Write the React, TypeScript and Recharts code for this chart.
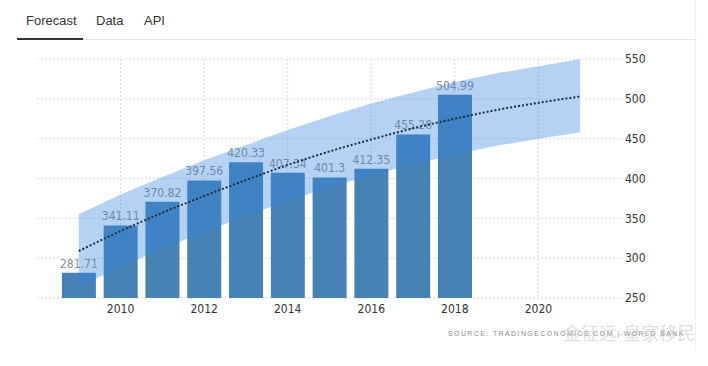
import React from "react";
import { ComposedChart, Bar, Area, Line, XAxis, YAxis, CartesianGrid, LabelList } from "recharts";

const years = [2009, 2010, 2011, 2012, 2013, 2014, 2015, 2016, 2017, 2018, 2019, 2020, 2021];
const barValues = [281.71, 341.11, 370.82, 397.56, 420.33, 407.34, 401.3, 412.35, 455.28, 504.99];
const trendValues = [309, 334, 357, 378, 398, 417, 434, 449, 463, 475, 486, 495, 503];
const upperValues = [355, 380, 402, 423, 442, 461, 478, 494, 508, 521, 532, 541, 550];
const lowerValues = [264, 289, 312, 333, 353, 372, 389, 404, 418, 430, 441, 450, 458];
const xTicks = [2010, 2012, 2014, 2016, 2018, 2020];
const yTicks = [250, 300, 350, 400, 450, 500, 550];
const tabs = ["Forecast", "Data", "API"];
const sourceText = "SOURCE: TRADINGECONOMICS.COM | WORLD BANK";
const watermark = "金征远-皇家移民";

const data = years.map((y, i) => ({
  year: y,
  value: i < barValues.length ? barValues[i] : null,
  trend: trendValues[i],
  band: [lowerValues[i], upperValues[i]],
}));

const narrow = "'Liberation Sans Narrow', 'DejaVu Sans Condensed', 'Liberation Sans', Arial, sans-serif";
const W = 708;
const H = 366;
const margin = { top: 59, right: 26, bottom: 38, left: 37 };

export default function App() {
  const tickStyle = { fill: "#333", fontSize: 12, fontFamily: narrow };
  return (
    <div style={{ position: "absolute", left: 0, top: 0, width: W, height: H, background: "#fff", overflow: "hidden", fontFamily: "'Liberation Sans', Arial, sans-serif" }}>
      <div style={{ position: "absolute", left: 695, top: 0, width: 1, height: 350, background: "#f0f0f0" }} />
      <div style={{ position: "absolute", left: 17, top: 39, width: 680, height: 1, background: "#e6e6e6" }} />
      <div style={{ position: "absolute", left: 17, top: 38, width: 66, height: 2, background: "#333" }} />
      {tabs.map((t, i) => (
        <div key={t} style={{ position: "absolute", left: [26, 96, 144][i], top: 12, fontSize: 13, color: "#333", lineHeight: "18px" }}>{t}</div>
      ))}
      <div style={{ position: "absolute", left: 0, top: 0 }}>
        <ComposedChart width={W} height={H} data={data} margin={margin}>
          <CartesianGrid stroke="#d9d9d9" strokeDasharray="2 2" horizontalValues={yTicks} verticalValues={xTicks} />
          <XAxis dataKey="year" type="number" domain={[2008, 2022]} ticks={xTicks} axisLine={false} tickLine={false} tickSize={0} tickMargin={6} tick={tickStyle} />
          <YAxis orientation="right" domain={[250, 550]} ticks={yTicks} allowDataOverflow axisLine={false} tickLine={false} tickSize={0} tickMargin={3} width={60}
            tick={{ ...tickStyle, textAnchor: "start" }} />
          <Bar dataKey="value" fill="#4682B4" barSize={34} isAnimationActive={false}>
            <LabelList dataKey="value" position="top" offset={5} fill="#8c8c8c" fontSize={12} fontFamily={narrow} />
          </Bar>
        </ComposedChart>
      </div>
      <div style={{ position: "absolute", left: 0, top: 0 }}>
        <ComposedChart width={W} height={H} data={data} margin={margin}>
          <XAxis dataKey="year" type="number" domain={[2008, 2022]} ticks={xTicks} axisLine={false} tickLine={false} tickSize={0} tick={false} />
          <YAxis orientation="right" domain={[250, 550]} ticks={yTicks} allowDataOverflow axisLine={false} tickLine={false} tickSize={0} width={60} tick={false} />
          <Area dataKey="band" type="linear" stroke="none" fill="#3586E4" fillOpacity={0.37} isAnimationActive={false} activeDot={false} />
          <Line dataKey="trend" type="monotone" stroke="#1f2d3d" strokeWidth={2} strokeDasharray="2 2" dot={false} activeDot={false} isAnimationActive={false} />
        </ComposedChart>
      </div>
      <div style={{ position: "absolute", left: 448, top: 330, fontSize: 7, letterSpacing: 1.4, color: "#8a8a8a", whiteSpace: "nowrap" }}>{sourceText}</div>
      <div style={{ position: "absolute", left: 563, top: 319, fontSize: 18, color: "rgba(190,190,190,0.5)", whiteSpace: "nowrap", fontFamily: "'Noto Sans CJK SC', sans-serif" }}>{watermark}</div>
    </div>
  );
}
